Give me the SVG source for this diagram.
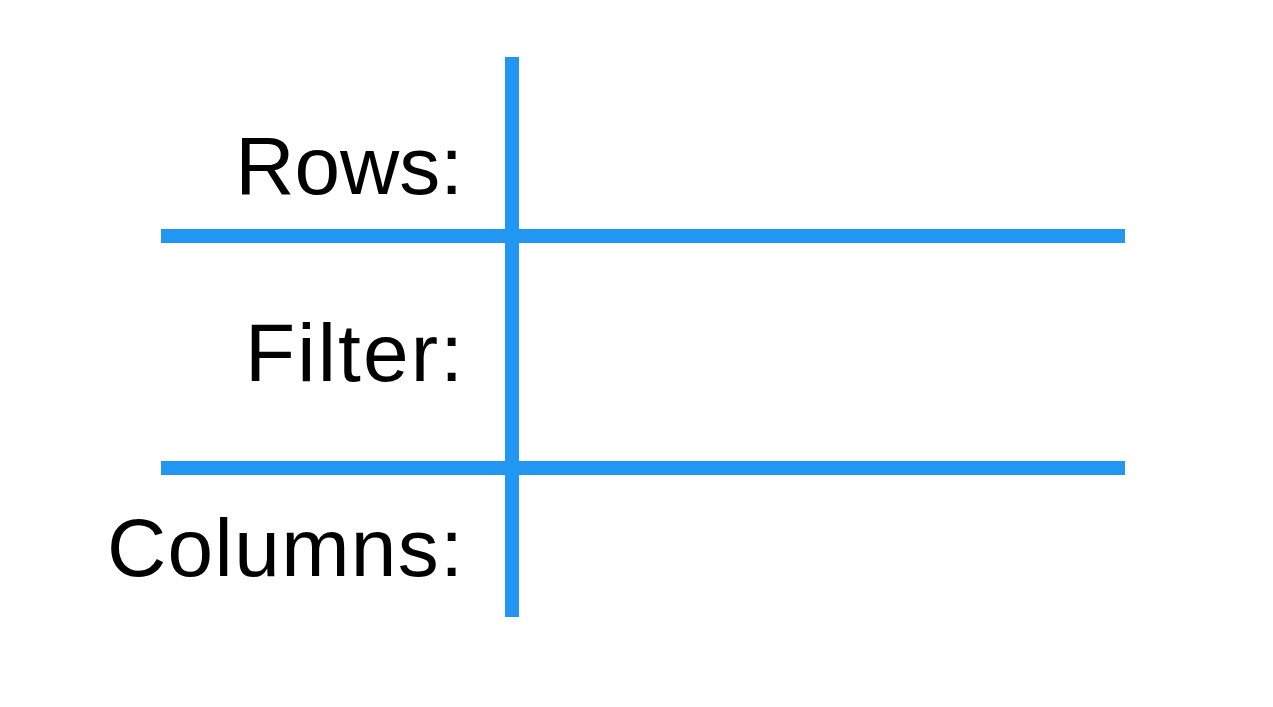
<svg xmlns="http://www.w3.org/2000/svg" width="1273" height="707" viewBox="0 0 1273 707">
<style>
.lbl{font-family:"Liberation Sans",Arial,sans-serif;font-size:82px;fill:#000;text-anchor:end}
.ln{stroke:#2196f3;stroke-width:14;fill:none}
</style>
<rect width="1273" height="707" fill="#fff"/>
<g id="connectors">
<line class="ln" x1="512" y1="57" x2="512" y2="617"/>
<line class="ln" x1="161" y1="236" x2="1125" y2="236"/>
<line class="ln" x1="161" y1="468" x2="1125" y2="468"/>
</g>
<g id="rows"><text class="lbl" x="463" y="194">Rows:</text></g>
<g id="filter"><text class="lbl" x="463" y="381" textLength="218" lengthAdjust="spacing">Filter:</text></g>
<g id="columns"><text class="lbl" x="463" y="576" textLength="356" lengthAdjust="spacing">Columns:</text></g>
</svg>
